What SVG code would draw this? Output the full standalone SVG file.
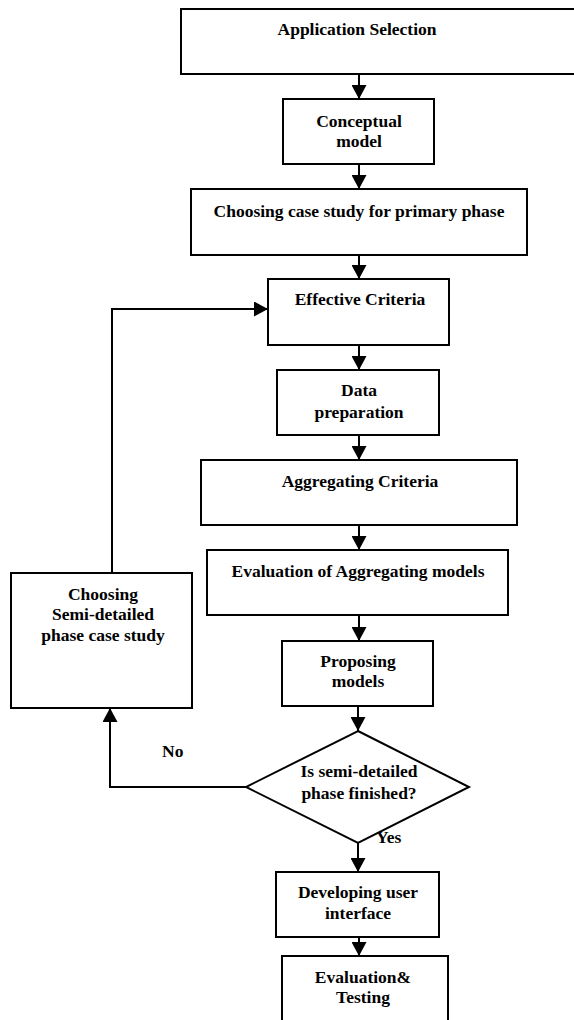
<svg xmlns="http://www.w3.org/2000/svg" width="574" height="1020" viewBox="0 0 574 1020">
<style>
.box{fill:#fff;stroke:#000;stroke-width:2}
.t{font-family:"Liberation Serif","Times New Roman",serif;font-weight:bold;font-size:17.5px;text-anchor:middle;fill:#000}
.l{font-family:"Liberation Serif","Times New Roman",serif;font-weight:bold;font-size:17.5px;fill:#000}
.c{fill:none;stroke:#000;stroke-width:2}
</style>
<defs>
<marker id="ah" viewBox="0 0 14 15" refX="14" refY="7.5" markerWidth="14" markerHeight="15" markerUnits="userSpaceOnUse" orient="auto">
<path d="M0,0 L14,7.5 L0,15 Z" fill="#000"/>
</marker>
</defs>
<rect width="574" height="1020" fill="#fff"/>
<g id="connectors">
<line class="c" x1="359" y1="74" x2="359" y2="99" marker-end="url(#ah)"/>
<line class="c" x1="359" y1="164" x2="359" y2="189" marker-end="url(#ah)"/>
<line class="c" x1="359" y1="255" x2="359" y2="279" marker-end="url(#ah)"/>
<line class="c" x1="359" y1="345" x2="359" y2="370" marker-end="url(#ah)"/>
<line class="c" x1="359" y1="435" x2="359" y2="460" marker-end="url(#ah)"/>
<line class="c" x1="359" y1="525" x2="359" y2="550" marker-end="url(#ah)"/>
<line class="c" x1="359" y1="615" x2="359" y2="641" marker-end="url(#ah)"/>
<line class="c" x1="358" y1="706" x2="358" y2="731" marker-end="url(#ah)"/>
<line class="c" x1="358" y1="843" x2="358" y2="872" marker-end="url(#ah)"/>
<line class="c" x1="359" y1="937" x2="359" y2="956" marker-end="url(#ah)"/>
<polyline class="c" points="246,787 110,787 110,708" marker-end="url(#ah)"/>
<polyline class="c" points="112,573 112,309 268,309" marker-end="url(#ah)"/>
<text class="l" x="162" y="757">No</text>
<text class="l" x="376" y="843">Yes</text>
</g>
<g id="n1"><rect class="box" x="181" y="9" width="400" height="65"/><text class="t" x="357" y="35">Application Selection</text></g>
<g id="n2"><rect class="box" x="283" y="99" width="151" height="65"/><text class="t" x="359" y="127">Conceptual</text><text class="t" x="359" y="147">model</text></g>
<g id="n3"><rect class="box" x="191" y="189" width="336" height="66"/><text class="t" x="359" y="217">Choosing case study for primary phase</text></g>
<g id="n4"><rect class="box" x="268" y="279" width="181" height="66"/><text class="t" x="360" y="305">Effective Criteria</text></g>
<g id="n5"><rect class="box" x="277" y="370" width="162" height="65"/><text class="t" x="359" y="396">Data</text><text class="t" x="359" y="418">preparation</text></g>
<g id="n6"><rect class="box" x="201" y="460" width="316" height="65"/><text class="t" x="360" y="487">Aggregating Criteria</text></g>
<g id="n7"><rect class="box" x="207" y="550" width="301" height="65"/><text class="t" x="358" y="577">Evaluation of Aggregating models</text></g>
<g id="n8"><rect class="box" x="282" y="641" width="151" height="65"/><text class="t" x="358" y="667">Proposing</text><text class="t" x="358" y="687">models</text></g>
<g id="n9"><polygon class="box" points="358,731 469,787 358,843 246,787"/><text class="t" x="359" y="777">Is semi-detailed</text><text class="t" x="359" y="799">phase finished?</text></g>
<g id="n10"><rect class="box" x="11" y="573" width="181" height="135"/><text class="t" x="103" y="600">Choosing</text><text class="t" x="103" y="620">Semi-detailed</text><text class="t" x="103" y="641">phase case study</text></g>
<g id="n11"><rect class="box" x="276" y="872" width="163" height="65"/><text class="t" x="358" y="898">Developing user</text><text class="t" x="358" y="919">interface</text></g>
<g id="n12"><rect class="box" x="282" y="956" width="166" height="80"/><text class="t" x="363" y="983">Evaluation&amp;</text><text class="t" x="363" y="1003">Testing</text></g>
</svg>
